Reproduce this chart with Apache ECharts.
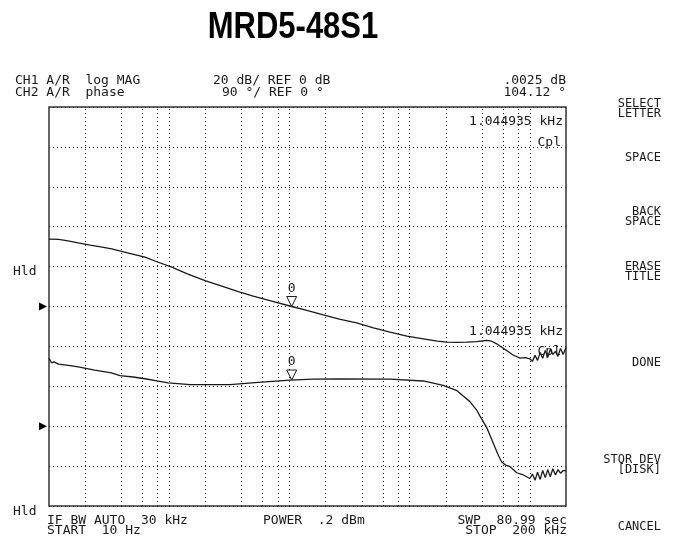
<!DOCTYPE html>
<html><head><meta charset="utf-8">
<script src="https://cdn.jsdelivr.net/npm/echarts@6/dist/echarts.min.js"></script>
<style>html,body{margin:0;padding:0;background:#fff}#c{width:675px;height:545px}</style>
</head><body><div id="c"></div>
<script>
// ---- data ----
const gridFreqs = [20,40,60,80,100,200,400,600,800,1000,2000,4000,6000,8000,10000,20000,40000,60000,80000,100000];
const magFreq = [10,12,14,17.5,22,27,33.2,45,62.9,80,105,140,198.6,270,375.7,500,712,1045,1348,1914,2600,3631,5000,6871,9500,13000,17000,20370,25000,29870,36000,43800,48000,53050,58000,64270,72000,82850,92000,
  100000,105000,110500,116000,122000,128000,134500,141000,148000,155500,163500,171500,180000,189500,200000];
const magDb = [33.8,33.6,33.0,31.9,30.8,29.9,28.9,26.9,24.7,22.3,19.7,16.5,13.0,10.3,7.5,5.2,2.7,0.0,-1.7,-4.2,-6.3,-8.2,-10.7,-12.9,-14.8,-16.2,-17.4,-17.9,-18.0,-17.9,-17.6,-17.0,-17.4,-18.7,-20.3,-22.1,-24.2,-25.9,-25.6,
  -26.2,-27.5,-24.5,-27.0,-23.0,-26.0,-22.0,-25.5,-21.5,-24.0,-22.5,-25.0,-21.0,-24.0,-20.5];
const phaseFreq = [10,10.5,11,12,14.5,17.5,24,33,39,50,63,79,98,150,320,550,1010,1570,2650,6870,13000,19000,24500,27900,31600,36000,38300,43600,49600,54000,58200,63000,68300,77800,88400,
  100000,105000,110500,116000,122000,128000,134500,141000,148000,155500,163500,171500,180000,189500,200000];
const phaseDeg = [153.4,143,145,140,137,133.8,126.3,120.2,114,111,107,102,97.5,94,94,99,104,106,106.7,106,102,92,81,68,56,37,24,-2,-38,-62,-80,-88,-91,-105,-110,
  -118,-108,-122,-104,-120,-100,-116,-98,-114,-96,-110,-98,-106,-100,-100];
const markerFreq = 1044.935;
const markerMag = 0.0025;
const markerPhase = 104.12;
const magRange = [-100, 100, 20];     // 20 dB/div, REF 0 dB
const phaseRange = [-180, 720, 90];   // 90 °/div, REF 0 °

// ---- chart ----
const chart = echarts.init(document.getElementById('c'), null, {renderer: 'canvas'});
const mono = '"DejaVu Sans Mono", "Liberation Mono", monospace';
const ink = '#1a1a1a';
function txt(t, x, y, align, size) {
  return {type: 'text', x: x, y: y, silent: true, z: 100,
    style: {text: t, align: align || 'left', textAlign: align || 'left', verticalAlign: 'middle', textVerticalAlign: 'middle',
      font: (size || 13) + 'px ' + mono, fill: ink}};
}
const menu = [['SELECT', 104], ['LETTER', 114], ['SPACE', 158], ['BACK', 212], ['SPACE', 222], ['ERASE', 267], ['TITLE', 277],
  ['DONE', 363], ['STOR DEV', 460], ['[DISK]', 470], ['CANCEL', 527]];
const graphics = [
  {type: 'text', x: 293, y: 28, scaleY: 1.2, originX: 0, originY: 0, silent: true,
    style: {text: 'MRD5-48S1', align: 'center', textAlign: 'center', verticalAlign: 'middle', textVerticalAlign: 'middle',
      font: 'bold 31px "Liberation Sans", Arial, sans-serif', fill: '#000'}},
  txt('CH1 A/R  log MAG', 15, 81),
  txt('CH2 A/R  phase', 15, 93),
  txt('20 dB/ REF 0 dB', 213, 81),
  txt('90 °/ REF 0 °', 222, 93),
  txt('.0025 dB', 566, 81, 'right'),
  txt('104.12 °', 566, 93, 'right'),
  txt('1.044935 kHz', 563, 122, 'right'),
  txt('Cpl', 561, 143, 'right'),
  txt('1.044935 kHz', 563, 332, 'right'),
  txt('Cpl', 561, 352, 'right'),
  txt('Hld', 13, 272),
  txt('Hld', 13, 512),
  txt('IF BW AUTO  30 kHz', 47, 521),
  txt('START  10 Hz', 47, 531),
  txt('POWER  .2 dBm', 263, 521),
  txt('SWP  80.99 sec', 567, 521, 'right'),
  txt('STOP  200 kHz', 567, 531, 'right')
];
menu.forEach(m => graphics.push(txt(m[0], 661, m[1], 'right', 12)));

const dotted = {type: [1, 3], color: '#222', width: 1};
function refTri(y) {
  return {coord: [10, y], symbol: 'triangle', symbolRotate: -90, symbolSize: [8, 8], symbolOffset: [-6, 0],
    itemStyle: {color: '#000', borderWidth: 0}, label: {show: false}};
}
function mk(y) {
  return {coord: [markerFreq, y], symbol: 'triangle', symbolRotate: 180, symbolSize: [10, 10], symbolOffset: [0, -5],
    itemStyle: {color: '#fff', borderColor: ink, borderWidth: 1},
    label: {show: true, formatter: '0', position: 'top', distance: 1, color: ink, fontFamily: mono, fontSize: 13}};
}

chart.setOption({
  animation: false,
  backgroundColor: '#fff',
  grid: {left: 49, right: 109, top: 107, bottom: 39, show: true, borderColor: '#333', borderWidth: 1.5, backgroundColor: 'transparent'},
  xAxis: {type: 'log', logBase: 10, min: 10, max: 200000,
    axisLine: {show: false}, axisTick: {show: false}, axisLabel: {show: false}, splitLine: {show: false}},
  yAxis: [
    {type: 'value', min: magRange[0], max: magRange[1], interval: magRange[2],
      axisLine: {show: false}, axisTick: {show: false}, axisLabel: {show: false}, splitLine: {show: true, lineStyle: dotted}},
    {type: 'value', min: phaseRange[0], max: phaseRange[1], interval: phaseRange[2],
      axisLine: {show: false}, axisTick: {show: false}, axisLabel: {show: false}, splitLine: {show: false}}
  ],
  graphic: graphics,
  series: [
    {type: 'line', name: 'log MAG', yAxisIndex: 0, symbol: 'none', silent: true,
      data: magFreq.map((f, i) => [f, magDb[i]]),
      lineStyle: {color: ink, width: 1.3},
      markLine: {silent: true, symbol: ['none', 'none'], label: {show: false}, lineStyle: dotted, animation: false,
        data: gridFreqs.map(f => ({xAxis: f}))},
      markPoint: {silent: true, animation: false, data: [mk(markerMag), refTri(0)]}
    },
    {type: 'line', name: 'phase', yAxisIndex: 1, symbol: 'none', silent: true,
      data: phaseFreq.map((f, i) => [f, phaseDeg[i]]),
      lineStyle: {color: ink, width: 1.3},
      markPoint: {silent: true, animation: false, data: [mk(markerPhase), refTri(0)]}
    }
  ]
});
</script></body></html>
